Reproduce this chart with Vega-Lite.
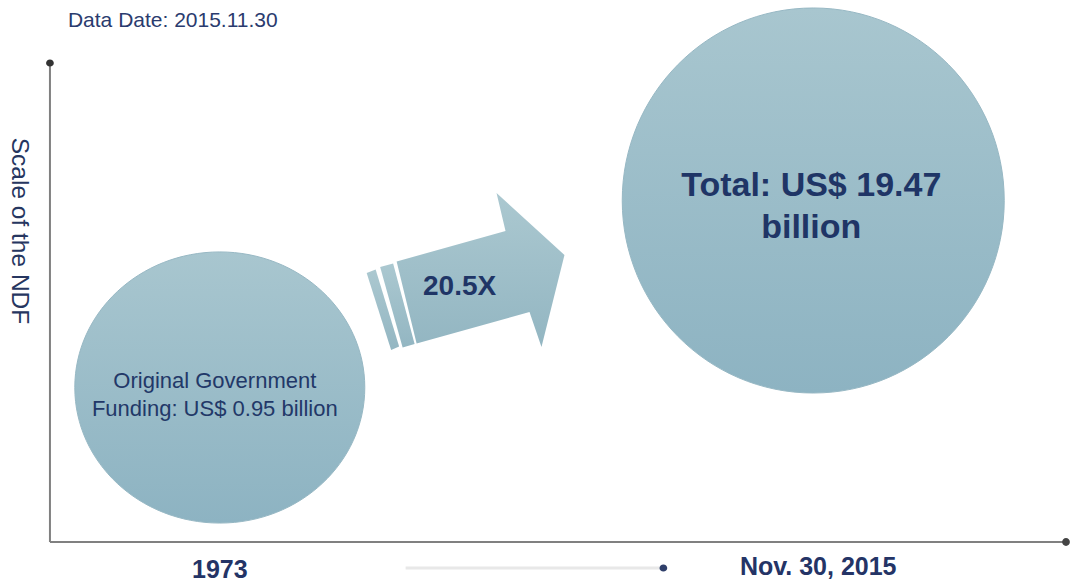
{
  "$schema": "https://vega.github.io/schema/vega-lite/v6.json",
  "width": 1070,
  "height": 583,
  "autosize": {"type": "fit", "contains": "padding"},
  "padding": 0,
  "background": "white",
  "config": {"view": {"stroke": null}},
  "encoding": {
    "x": {"field": "x", "type": "quantitative", "scale": {"domain": [0, 1070], "nice": false, "zero": false}, "axis": null},
    "y": {"field": "y", "type": "quantitative", "scale": {"domain": [0, 583], "nice": false, "zero": false, "reverse": true}, "axis": null}
  },
  "layer": [
    {
      "data": {"values": [
        {"part": "stripe1", "i": 1, "x": 367, "y": 273},
        {"part": "stripe1", "i": 2, "x": 376, "y": 269.5},
        {"part": "stripe1", "i": 3, "x": 399.5, "y": 346.5},
        {"part": "stripe1", "i": 4, "x": 391.5, "y": 350},
        {"part": "stripe2", "i": 1, "x": 380.5, "y": 267},
        {"part": "stripe2", "i": 2, "x": 393.5, "y": 263.5},
        {"part": "stripe2", "i": 3, "x": 415, "y": 344},
        {"part": "stripe2", "i": 4, "x": 403, "y": 347.5},
        {"part": "body", "i": 1, "x": 397, "y": 261.5},
        {"part": "body", "i": 2, "x": 506, "y": 231},
        {"part": "body", "i": 3, "x": 497, "y": 193},
        {"part": "body", "i": 4, "x": 565, "y": 255},
        {"part": "body", "i": 5, "x": 542, "y": 347},
        {"part": "body", "i": 6, "x": 530, "y": 312},
        {"part": "body", "i": 7, "x": 417, "y": 343.5}
      ]},
      "mark": {
        "type": "line",
        "fill": {"gradient": "linear", "x1": 0, "y1": 0, "x2": 0, "y2": 1, "stops": [{"offset": 0, "color": "#abc8d0"}, {"offset": 1, "color": "#93b6c2"}]},
        "strokeWidth": 0,
        "stroke": null
      },
      "encoding": {
        "detail": {"field": "part"},
        "order": {"field": "i", "type": "quantitative"}
      }
    },
    {
      "data": {"values": [
        {"item": "Original Government Funding", "amount": 0.95, "x": 220, "y": 387.5},
        {"item": "Total", "amount": 19.47, "x": 814, "y": 200.5}
      ]},
      "mark": {
        "type": "point",
        "filled": true,
        "opacity": 1,
        "fill": {"gradient": "linear", "x1": 0, "y1": 0, "x2": 0, "y2": 1, "stops": [{"offset": 0, "color": "#a8c6cf"}, {"offset": 1, "color": "#8db3c2"}]},
        "stroke": "#97b8c4",
        "strokeWidth": 1
      },
      "encoding": {
        "shape": {"field": "item", "type": "nominal", "scale": {"domain": ["Original Government Funding", "Total"], "range": ["M-1,0A1,0.935 0 1,1 1,0A1,0.935 0 1,1 -1,0Z", "M-1,0A1,1.008 0 1,1 1,0A1,1.008 0 1,1 -1,0Z"]}, "legend": null},
        "size": {"field": "amount", "type": "quantitative", "scale": {"domain": [0.95, 19.47], "range": [84100, 145924], "zero": false}, "legend": null}
      }
    },
    {
      "data": {"values": [
        {"axis": "y", "x": 50, "y": 66, "x2": 50, "y2": 542},
        {"axis": "x", "x": 50, "y": 542, "x2": 1066, "y2": 542}
      ]},
      "mark": {"type": "rule", "color": "#808080", "strokeWidth": 2},
      "encoding": {
        "x2": {"field": "x2"},
        "y2": {"field": "y2"}
      }
    },
    {
      "data": {"values": [
        {"seg": "time", "x": 406, "y": 568, "x2": 661, "y2": 568}
      ]},
      "mark": {"type": "rule", "color": "#e8e8e8", "strokeWidth": 3},
      "encoding": {
        "x2": {"field": "x2"},
        "y2": {"field": "y2"}
      }
    },
    {
      "data": {"values": [
        {"dir": "up", "x": 50, "y": 63},
        {"dir": "right", "x": 1067, "y": 542},
        {"dir": "time", "x": 664, "y": 568}
      ]},
      "mark": {"type": "point", "filled": true, "opacity": 1},
      "encoding": {
        "shape": {"field": "dir", "type": "nominal", "scale": {"domain": ["up", "right", "time"], "range": ["triangle-up", "triangle-right", "triangle-right"]}, "legend": null},
        "color": {"field": "dir", "type": "nominal", "scale": {"domain": ["up", "right", "time"], "range": ["#333333", "#444444", "#2f3f6a"]}, "legend": null},
        "size": {"value": 60}
      }
    },
    {
      "data": {"values": [{"label": "Data Date: 2015.11.30", "x": 68, "y": 21}]},
      "mark": {"type": "text", "align": "left", "baseline": "middle", "font": "Liberation Sans", "fontSize": 21, "color": "#2a3b6e"},
      "encoding": {"text": {"field": "label"}}
    },
    {
      "data": {"values": [{"label": "Scale of the NDF", "x": 19, "y": 231}]},
      "mark": {"type": "text", "align": "center", "baseline": "middle", "angle": 90, "font": "Liberation Sans", "fontSize": 24.5, "color": "#263660"},
      "encoding": {"text": {"field": "label"}}
    },
    {
      "data": {"values": [{"label": ["Original Government", "Funding:  US$ 0.95 billion"], "x": 215, "y": 381}]},
      "mark": {"type": "text", "align": "center", "baseline": "middle", "font": "Liberation Sans", "fontSize": 22, "lineHeight": 28, "color": "#223868"},
      "encoding": {"text": {"field": "label"}}
    },
    {
      "data": {"values": [{"label": ["Total:  US$ 19.47", "billion"], "x": 812, "y": 186}]},
      "mark": {"type": "text", "align": "center", "baseline": "middle", "font": "Liberation Sans", "fontSize": 34, "fontWeight": "bold", "lineHeight": 42, "color": "#1f3566"},
      "encoding": {"text": {"field": "label"}}
    },
    {
      "data": {"values": [{"label": "20.5X", "x": 460, "y": 287}]},
      "mark": {"type": "text", "align": "center", "baseline": "middle", "font": "Liberation Sans", "fontSize": 28, "fontWeight": "bold", "color": "#1f3566"},
      "encoding": {"text": {"field": "label"}}
    },
    {
      "data": {"values": [
        {"label": "1973", "x": 220, "y": 570},
        {"label": "Nov. 30, 2015", "x": 819, "y": 567}
      ]},
      "mark": {"type": "text", "align": "center", "baseline": "middle", "font": "Liberation Sans", "fontSize": 25, "fontWeight": "bold", "color": "#243466"},
      "encoding": {"text": {"field": "label"}}
    }
  ]
}
